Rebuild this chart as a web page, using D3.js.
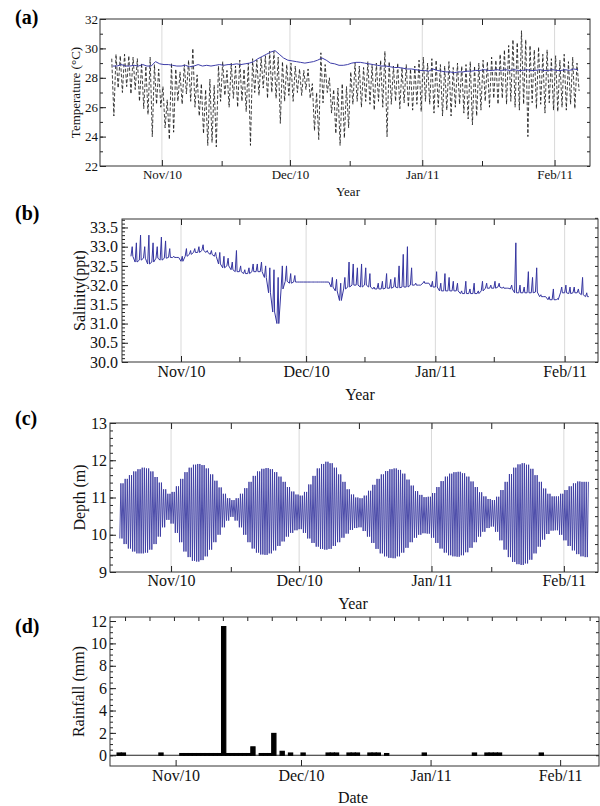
<!DOCTYPE html>
<meta charset="utf-8">
<style>
  body { margin: 0; background: #fff; }
  text { font-family: "Liberation Serif", "Times New Roman", Tinos, "DejaVu Serif", serif; }
  .frame { fill: none; stroke: #333; stroke-width: 1; }
  .grid { stroke: #cfcfcf; stroke-width: 0.8; }
  .letter { font-weight: bold; font-size: 20px; fill: #000; }
  .title { fill: #111; }
</style>
<body></body>
<script src="https://d3js.org/d3.v7.min.js"></script>
<script>
// all days are counted from 1 Nov 2010 (day 0); daily series start on day -12 (20 Oct 2010)
var startDay = -12;
var monthTicks = [0, 30, 61, 92];
var monthNames = ["Nov/10", "Dec/10", "Jan/11", "Feb/11"];
var midMonthTicks = [14, 44, 75];
var serif = "'Liberation Serif', 'Times New Roman', Tinos, 'DejaVu Serif', serif";

// (a) temperature, blue logger (daily) and dashed logger (daily max / min)
var tempBlue = [28.8, 28.8, 28.9, 28.8, 28.8, 28.85, 28.8, 28.9, 28.8, 28.8, 29.1, 28.95,
  28.9, 28.9, 28.85, 28.8, 28.8, 28.85, 28.75, 28.8, 28.9, 28.8,
  28.85, 28.8, 28.85, 28.9, 28.85, 28.9, 28.9, 28.95, 28.9, 28.95,
  29.0, 29.1, 29.3, 29.45, 29.6, 29.75, 29.85, 29.6, 29.35, 29.2,
  29.15, 29.1, 29.05, 29.0, 29.05, 29.1, 29.2, 29.35, 29.2, 29.0,
  28.95, 28.85, 28.85, 28.9, 29.0, 29.05, 29.05, 29.0, 28.95, 28.9,
  28.85, 28.8, 28.8, 28.75, 28.7, 28.7, 28.65, 28.6, 28.6, 28.55,
  28.5, 28.5, 28.45, 28.6, 28.5, 28.45, 28.4, 28.4, 28.35, 28.4,
  28.4, 28.45, 28.45, 28.5, 28.5, 28.55, 28.5, 28.5, 28.55, 28.5,
  28.55, 28.5, 28.55, 28.5, 28.5, 28.55, 28.5, 28.5, 28.55, 28.5,
  28.5, 28.55, 28.5, 28.5, 28.55, 28.5, 28.6, 28.55];
var tempHigh = [29.3, 29.6, 29.5, 29.6, 29.5, 29.4, 29.3, 29.0, 28.8, 29.4, 28.9, 28.6,
  27.4, 26.5, 29.0, 28.6, 28.4, 28.9, 29.2, 30.0, 28.2, 27.6,
  27.2, 27.9, 27.5, 28.8, 29.1, 28.5, 29.0, 28.8, 29.2, 28.6,
  29.0, 29.3, 29.2, 29.4, 29.5, 29.8, 29.8, 29.4, 29.1, 28.9,
  29.0, 28.8, 28.6, 28.5, 28.6, 27.6, 27.0, 29.7, 28.9, 28.0,
  27.2, 27.3, 27.6, 27.4, 28.4, 29.0, 28.8, 28.7, 29.1, 28.9,
  29.0, 29.2, 29.8, 29.1, 28.8, 29.0, 28.7, 28.9, 28.6, 28.8,
  29.2, 29.4, 29.0, 29.3, 29.2, 28.9, 28.8, 29.1, 28.7, 29.0,
  28.8, 28.9, 29.1, 28.8, 29.0, 29.2, 29.1, 29.4, 29.2, 29.6,
  29.9, 30.2, 30.6, 30.4, 31.2, 30.6, 30.2, 29.9, 30.1, 29.6,
  29.9, 29.3, 29.5, 29.2, 29.6, 29.1, 29.4, 29.0];
var tempLow = [25.4, 27.3, 27.0, 27.4, 26.9, 27.2, 26.4, 25.9, 25.5, 24.0, 26.2, 26.0,
  24.6, 23.8, 24.3, 26.4, 26.2, 26.9, 26.4, 26.0, 25.4, 24.2,
  23.4, 23.6, 23.3, 26.4, 26.8, 26.0, 26.6, 26.0, 26.4, 25.7,
  23.4, 27.0, 26.8, 27.3, 26.6, 27.0, 26.6, 24.9, 26.4, 26.8,
  26.4, 27.0, 26.8, 27.2, 26.6, 24.4, 23.8, 26.3, 27.0, 25.6,
  24.2, 23.4, 23.9, 24.6, 26.2, 26.4, 26.0, 26.4, 26.2, 25.8,
  26.4, 26.0, 24.0, 26.2, 26.4, 25.9, 26.3, 26.0, 25.8, 26.2,
  25.7, 26.4, 26.2, 25.6, 26.0, 25.4, 25.8, 25.4, 26.0, 26.2,
  25.6, 25.2, 24.8, 25.4, 25.8, 26.4, 26.0, 26.6, 26.2, 26.6,
  26.2, 26.4, 26.0, 25.8, 26.2, 24.0, 26.3, 25.9, 26.2, 25.6,
  26.3, 25.8, 25.7, 26.0, 25.8, 26.2, 25.9, 27.1];

// (b) salinity, daily base level and daily spike level (ppt)
var salLow = [32.75, 32.6, 32.65, 32.7, 32.55, 32.6, 32.7, 32.65, 32.7, 32.72, 32.72, 32.72,
  32.62, 32.75, 32.8, 32.85, 32.85, 32.9, 32.85, 32.8, 32.75, 32.55,
  32.45, 32.5, 32.4, 32.35, 32.35, 32.3, 32.3, 32.35, 32.35, 32.35,
  32.2, 31.8, 31.3, 31.0, 31.9, 32.1, 32.05, 32.08, 32.08, 32.08,
  32.08, 32.08, 32.08, 32.08, 32.08, 32.08, 31.95, 31.85, 31.6, 31.9,
  31.95, 32.0, 32.0, 31.95, 32.0, 31.95, 31.9, 31.9, 31.9, 31.92,
  31.92, 31.95, 31.93, 31.95, 31.95, 32.0, 32.0, 32.0, 32.05, 32.05,
  31.95, 31.95, 31.85, 31.85, 31.85, 31.85, 31.85, 31.78, 31.78, 31.78,
  31.78, 31.78, 31.85, 31.92, 31.92, 31.92, 31.95, 31.92, 31.92, 31.9,
  31.8, 31.8, 31.8, 31.8, 31.8, 31.82, 31.7, 31.7, 31.62, 31.62,
  31.62, 31.8, 31.8, 31.78, 31.8, 31.8, 31.75, 31.7];
var salHigh = [33.0, 33.1, 33.3, 33.0, 33.3, 33.1, 33.0, 33.25, 33.15, 32.95, 32.75, 32.72,
  32.75, 32.95, 32.9, 32.95, 33.0, 33.05, 32.9, 32.9, 32.85, 32.85,
  32.75, 32.7, 32.6, 32.9, 32.5, 32.4, 32.45, 32.55, 32.55, 32.6,
  32.5, 32.45, 32.4, 32.2, 32.5, 32.5, 32.3, 32.25, 32.08, 32.08,
  32.08, 32.08, 32.08, 32.08, 32.08, 32.08, 32.2, 32.15, 32.05, 32.2,
  32.6, 32.55, 32.45, 32.55, 32.45, 32.3, 31.95, 32.05, 32.1, 32.3,
  32.15, 32.2, 32.5, 32.8, 33.0, 32.45, 32.05, 32.0, 32.1, 32.05,
  32.1, 32.35, 32.05, 32.3, 32.2, 32.1, 32.05, 31.85, 32.1, 31.9,
  32.05, 31.85, 32.1, 32.05, 32.0, 32.1, 32.05, 31.95, 31.92, 32.0,
  33.1, 32.0, 31.95, 32.35, 32.2, 32.45, 31.75, 31.7, 31.7, 31.9,
  31.65, 31.95, 32.0, 31.95, 31.95, 31.9, 32.2, 31.8];

// (c) depth, daily high water and low water (m)
var depthHigh = [11.38, 11.5, 11.6, 11.7, 11.76, 11.8, 11.78, 11.7, 11.55, 11.4, 11.22, 11.1,
  11.15, 11.3, 11.5, 11.68, 11.8, 11.88, 11.9, 11.87, 11.78, 11.62,
  11.45, 11.27, 11.1, 10.98, 10.93, 10.98, 11.1, 11.25, 11.42, 11.58,
  11.7, 11.77, 11.79, 11.76, 11.68, 11.56, 11.42, 11.28, 11.16, 11.08,
  11.05, 11.15, 11.35, 11.58, 11.78, 11.9, 11.96, 11.92, 11.8, 11.62,
  11.42, 11.22, 11.08, 11.0, 10.98, 11.05, 11.18, 11.34, 11.5, 11.62,
  11.71, 11.76, 11.78, 11.74, 11.64, 11.48, 11.32, 11.17, 11.07, 11.01,
  11.02, 11.12, 11.28, 11.44, 11.56, 11.64, 11.68, 11.69, 11.65, 11.56,
  11.43, 11.28, 11.14, 11.03, 10.96, 10.93, 11.02, 11.2, 11.42, 11.63,
  11.8, 11.89, 11.92, 11.88, 11.77, 11.6, 11.42, 11.24, 11.1, 11.03,
  11.03, 11.1, 11.2, 11.3, 11.38, 11.43, 11.42, 11.42];
var depthLow = [9.9, 9.75, 9.63, 9.55, 9.5, 9.5, 9.52, 9.6, 9.75, 9.95, 10.2, 10.4,
  10.3, 10.05, 9.8, 9.55, 9.4, 9.3, 9.28, 9.32, 9.42, 9.6,
  9.8, 10.0, 10.2, 10.38, 10.48, 10.38, 10.2, 10.0, 9.8, 9.63,
  9.52, 9.47, 9.46, 9.5, 9.58, 9.7, 9.82, 9.95, 10.05, 10.12,
  10.15, 10.05, 9.9, 9.78, 9.68, 9.62, 9.6, 9.62, 9.7, 9.8,
  9.92, 10.03, 10.13, 10.18, 10.2, 10.1, 9.95, 9.78, 9.62, 9.5,
  9.42, 9.38, 9.37, 9.42, 9.52, 9.65, 9.8, 9.92, 10.0, 10.04,
  10.03, 9.92, 9.78, 9.63, 9.52, 9.45, 9.42, 9.41, 9.45, 9.53,
  9.65, 9.8, 9.95, 10.08, 10.18, 10.22, 10.08, 9.85, 9.6, 9.4,
  9.27, 9.21, 9.19, 9.23, 9.33, 9.5, 9.68, 9.87, 10.02, 10.11,
  10.12, 10.0, 9.85, 9.7, 9.58, 9.48, 9.42, 9.4];

// (d) daily rainfall: day (from 1 Nov 2010) and amount (mm)
var rainDays = [-14, -13, -4, 1, 2, 3, 4, 5, 6, 7, 8, 9, 10, 11, 12, 13, 14, 15, 16, 17, 18,
  20, 21, 22, 23, 25, 27, 30, 36, 37, 38, 41, 42, 43, 46, 47, 48, 50, 59, 71, 74, 75, 76, 77, 87];
var rainMm = [0.2, 0.2, 0.2, 0.15, 0.15, 0.15, 0.15, 0.15, 0.15, 0.15, 0.15, 0.15, 0.15, 11.5,
  0.15, 0.15, 0.15, 0.15, 0.15, 0.15, 0.75, 0.15, 0.15, 0.15, 1.95, 0.35, 0.2, 0.2,
  0.2, 0.2, 0.2, 0.2, 0.2, 0.2, 0.2, 0.2, 0.2, 0.15, 0.2, 0.2, 0.2, 0.2, 0.2, 0.2, 0.2];

var svg = d3.select("body").append("svg")
    .attr("width", 600)
    .attr("height", 806);

function monthName(d) { return monthNames[monthTicks.indexOf(d)]; }

// sets up a panel: scales, grid layer, data layer
function panel(p) {
    p.x = d3.scaleLinear().domain(p.xDomain).range([p.left, p.right]);
    p.y = d3.scaleLinear().domain(p.yDomain).range([p.bottom, p.top]);
    p.back = svg.append("g");
    p.mid = svg.append("g");
    p.front = svg.append("g");
    if (p.grid) {
        p.back.selectAll("line").data(monthTicks).enter().append("line")
            .attr("class", "grid")
            .attr("x1", function(d) { return p.x(d); })
            .attr("x2", function(d) { return p.x(d); })
            .attr("y1", p.top).attr("y2", p.bottom);
    }
    return p;
}

function styleAxis(sel, fs) {
    sel.attr("font-size", fs)
        .attr("font-family", serif)
        .attr("color", "#222");
    sel.select(".domain").remove();
    sel.selectAll("text").attr("fill", "#111");
}

// axes, ticks, frame and titles on top of the data
function finish(p) {
    var g = p.front, x = p.x, y = p.y;
    var none = function() { return ""; };

    styleAxis(g.append("g").attr("transform", "translate(0," + p.bottom + ")")
        .call(d3.axisBottom(x).tickValues(monthTicks).tickSize(-6).tickPadding(p.xPad).tickFormat(monthName)), p.fs);
    styleAxis(g.append("g").attr("transform", "translate(0," + p.bottom + ")")
        .call(d3.axisBottom(x).tickValues(p.bottomMinor).tickSize(-5).tickFormat(none)), p.fs);
    styleAxis(g.append("g").attr("transform", "translate(0," + p.top + ")")
        .call(d3.axisTop(x).tickValues(p.topTicks).tickSize(p.topSize).tickFormat(none)), p.fs);

    styleAxis(g.append("g").attr("transform", "translate(" + p.left + ",0)")
        .call(d3.axisLeft(y).tickValues(p.yMajor).tickSize(-6).tickPadding(p.yPad).tickFormat(d3.format(p.yFormat))), p.fs);
    styleAxis(g.append("g").attr("transform", "translate(" + p.left + ",0)")
        .call(d3.axisLeft(y).tickValues(p.yMinor).tickSize(-3).tickFormat(none)), p.fs);
    styleAxis(g.append("g").attr("transform", "translate(" + p.right + ",0)")
        .call(d3.axisRight(y).tickValues(p.yRight).tickSize(-3).tickFormat(none)), p.fs);

    g.append("rect").attr("class", "frame")
        .attr("x", p.left).attr("y", p.top)
        .attr("width", p.right - p.left).attr("height", p.bottom - p.top);

    g.append("text").attr("class", "title")
        .attr("transform", "translate(" + p.yTitleX + "," + (p.top + p.bottom) / 2 + ") rotate(-90)")
        .attr("text-anchor", "middle").attr("font-size", p.fs)
        .text(p.yTitle);
    g.append("text").attr("class", "title")
        .attr("x", p.xTitleX).attr("y", p.xTitleY)
        .attr("text-anchor", "middle").attr("font-size", p.fs)
        .text(p.xTitle);
    g.append("text").attr("class", "letter")
        .attr("x", 15).attr("y", p.letterY)
        .text(p.letter);
}

function range(a, b, s) { return d3.range(a, b + s / 2, s).map(function(v) { return +v.toFixed(3); }); }

// ---------- (a) temperature ----------
var pa = panel({left: 100, right: 590, top: 19, bottom: 166,
    xDomain: [-14.5, 100.3], yDomain: [22, 32], grid: true,
    fs: 13, xPad: 4, yPad: 2,
    bottomMinor: midMonthTicks, topTicks: monthTicks.concat(midMonthTicks), topSize: -6,
    yMajor: range(22, 32, 2), yMinor: range(22, 32, 1), yRight: range(22, 32, 1), yFormat: "d",
    yTitle: "Temperature (°C)", yTitleX: 80, xTitle: "Year", xTitleX: 348, xTitleY: 196,
    letter: "(a)", letterY: 24});

var blackPts = [];
tempHigh.forEach(function(v, i) {
    blackPts.push({d: startDay + i + 0.25, v: v});
    blackPts.push({d: startDay + i + 0.75, v: tempLow[i]});
});
var lineA = d3.line()
    .x(function(d) { return pa.x(d.d); })
    .y(function(d) { return pa.y(d.v); });
pa.mid.append("path")
    .datum(blackPts)
    .attr("d", lineA)
    .attr("fill", "none").attr("stroke", "#111").attr("stroke-width", 0.8)
    .attr("stroke-dasharray", "3.5,2");
pa.mid.append("path")
    .datum(tempBlue.map(function(v, i) { return {d: startDay + i + 0.5, v: v}; }))
    .attr("d", lineA)
    .attr("fill", "none").attr("stroke", "#3d3da8").attr("stroke-width", 1);
finish(pa);

// ---------- (b) salinity ----------
var pb = panel({left: 122, right: 598, top: 219, bottom: 362,
    xDomain: [-14.15, 100.0], yDomain: [30, 33.72], grid: true,
    fs: 16, xPad: 4, yPad: 4,
    bottomMinor: midMonthTicks, topTicks: monthTicks.concat(midMonthTicks), topSize: -6,
    yMajor: range(30, 33.5, 0.5), yMinor: range(30, 33.7, 0.1), yRight: range(30, 33.7, 0.25), yFormat: ".1f",
    yTitle: "Salinity(ppt)", yTitleX: 85, xTitle: "Year", xTitleX: 360, xTitleY: 400,
    letter: "(b)", letterY: 220});

var salPts = [];
salLow.forEach(function(v, i) {
    var d = startDay + i;
    salPts.push({d: d, v: v});
    salPts.push({d: d + 0.3, v: salHigh[i]});
    salPts.push({d: d + 0.45, v: v});
});
salPts.push({d: startDay + salLow.length - 0.2, v: salLow[salLow.length - 1]});
pb.mid.append("path")
    .datum(salPts)
    .attr("d", d3.line().x(function(d) { return pb.x(d.d); }).y(function(d) { return pb.y(d.v); }))
    .attr("fill", "none").attr("stroke", "#3535a0").attr("stroke-width", 1);
finish(pb);

// ---------- (c) depth ----------
var pc = panel({left: 110, right: 598, top: 423, bottom: 572,
    xDomain: [-14.3, 100.0], yDomain: [9, 13], grid: true,
    fs: 16, xPad: 3, yPad: 3,
    bottomMinor: midMonthTicks, topTicks: monthTicks.concat(midMonthTicks), topSize: -6,
    yMajor: range(9, 13, 1), yMinor: range(9, 13, 0.2), yRight: range(9, 13, 0.25), yFormat: "d",
    yTitle: "Depth (m)", yTitleX: 85, xTitle: "Year", xTitleX: 353, xTitleY: 609,
    letter: "(c)", letterY: 425});

var tidePts = [];
depthHigh.forEach(function(v, i) {
    var d = startDay + i;
    tidePts.push({d: d, v: depthLow[i]});
    tidePts.push({d: d + 0.25, v: v});
    tidePts.push({d: d + 0.5, v: depthLow[i]});
    tidePts.push({d: d + 0.75, v: v});
});
pc.mid.append("path")
    .datum(tidePts)
    .attr("d", d3.line().x(function(d) { return pc.x(d.d); }).y(function(d) { return pc.y(d.v); }))
    .attr("fill", "none").attr("stroke", "#3a3aa0").attr("stroke-width", 0.9);
finish(pc);

// ---------- (d) rainfall ----------
var pd = panel({left: 110, right: 599, top: 617, bottom: 766,
    xDomain: [-15.7, 101.3], yDomain: [-0.96, 12.36], grid: false,
    fs: 16, xPad: 4, yPad: 3,
    bottomMinor: [], topTicks: range(-12.1, 99, 5.85), topSize: -4,
    yMajor: range(0, 12, 2), yMinor: range(0, 12, 0.5), yRight: range(0, 12, 1), yFormat: "d",
    yTitle: "Rainfall (mm)", yTitleX: 84, xTitle: "Date", xTitleX: 353, xTitleY: 803,
    letter: "(d)", letterY: 633});

pd.mid.append("line")
    .attr("x1", pd.left).attr("x2", pd.right)
    .attr("y1", pd.y(0)).attr("y2", pd.y(0))
    .attr("stroke", "#222").attr("stroke-width", 1);
pd.mid.selectAll("rect").data(rainDays).enter().append("rect")
    .attr("x", function(d) { return pd.x(d); })
    .attr("width", function(d) { return pd.x(d + 1) - pd.x(d); })
    .attr("y", function(d, i) { return pd.y(rainMm[i]); })
    .attr("height", function(d, i) { return pd.y(0) - pd.y(rainMm[i]); })
    .attr("fill", "#000").attr("stroke", "#000").attr("stroke-width", 1.2);
finish(pd);
</script>
